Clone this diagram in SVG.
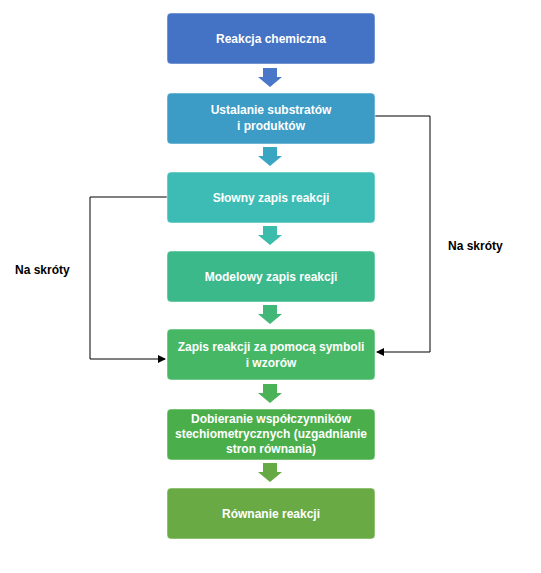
<svg xmlns="http://www.w3.org/2000/svg" width="541" height="573" viewBox="0 0 541 573">
<style>
.box{stroke:#ffffff;stroke-opacity:0.5;stroke-width:1}
.t{font-family:"Liberation Sans",Arial,sans-serif;font-weight:bold;font-size:12px;fill:#ffffff;text-anchor:middle}
.lbl{font-family:"Liberation Sans",Arial,sans-serif;font-weight:bold;font-size:12px;fill:#000000}
.ln{fill:none;stroke:#000000;stroke-width:1}
</style>
<defs>
<marker id="ah" markerWidth="8" markerHeight="8" refX="7" refY="4" orient="auto" markerUnits="userSpaceOnUse">
<path d="M0,0 L8,4 L0,8 z" fill="#000000"/>
</marker>
<path id="blk" d="M-7,0 H7 V9 H12 L0,19 L-12,9 H-7 z"/>
</defs>
<rect width="541" height="573" fill="#ffffff"/>
<g id="connectors">
<use href="#blk" x="270" y="68" fill="#4a78c8"/>
<use href="#blk" x="270" y="147" fill="#3aa6c2"/>
<use href="#blk" x="270" y="226" fill="#3cbcaa"/>
<use href="#blk" x="270" y="305" fill="#42b878"/>
<use href="#blk" x="270" y="384" fill="#4ab358"/>
<use href="#blk" x="270" y="463" fill="#66aa45"/>
<path class="ln" d="M167,197 H90 V359 H165" marker-end="url(#ah)"/>
<path class="ln" d="M375,116 H430 V352 H377" marker-end="url(#ah)"/>
<text class="lbl" x="15" y="274">Na skróty</text>
<text class="lbl" x="448" y="250">Na skróty</text>
</g>
<g id="n1"><rect class="box" x="167" y="13" width="208" height="51" rx="4" fill="#4472c4"/><text class="t" x="271" y="43">Reakcja chemiczna</text></g>
<g id="n2"><rect class="box" x="167" y="93" width="208" height="51" rx="4" fill="#3c9cc6"/><text class="t" x="271" y="114">Ustalanie substratów</text><text class="t" x="271" y="130">i produktów</text></g>
<g id="n3"><rect class="box" x="167" y="172" width="208" height="51" rx="4" fill="#3cbcb4"/><text class="t" x="271" y="202">Słowny zapis reakcji</text></g>
<g id="n4"><rect class="box" x="167" y="251" width="208" height="51" rx="4" fill="#3cb98a"/><text class="t" x="271" y="281">Modelowy zapis reakcji</text></g>
<g id="n5"><rect class="box" x="167" y="329" width="208" height="51" rx="4" fill="#46b865"/><text class="t" x="271" y="351">Zapis reakcji za pomocą symboli</text><text class="t" x="271" y="367">i wzorów</text></g>
<g id="n6"><rect class="box" x="167" y="409" width="208" height="51" rx="4" fill="#4aae4b"/><text class="t" x="271" y="423">Dobieranie współczynników</text><text class="t" x="271" y="438">stechiometrycznych (uzgadnianie</text><text class="t" x="271" y="453">stron równania)</text></g>
<g id="n7"><rect class="box" x="167" y="488" width="208" height="51" rx="4" fill="#6aaa45"/><text class="t" x="271" y="518">Równanie reakcji</text></g>
</svg>
